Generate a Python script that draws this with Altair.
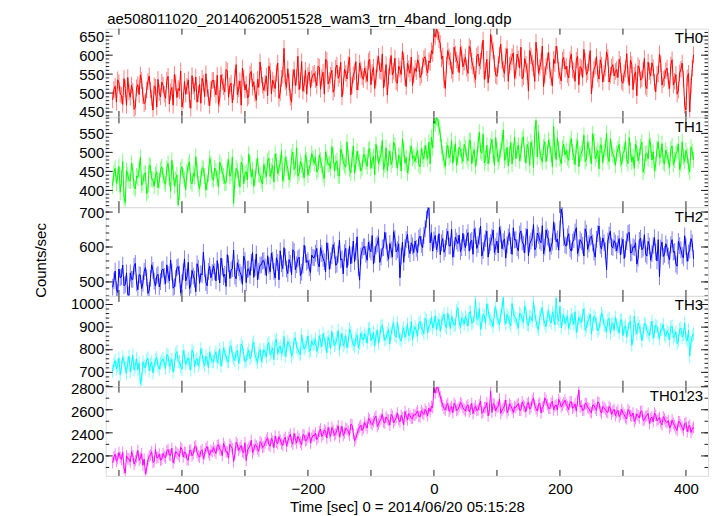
import altair as alt
import pandas as pd

# Two interleaved sets of time bins (sec from 2014/06/20 05:15:28):
# set A at t = -510, -506, ..., 410 ; set B at t = -508, -504, ..., 412
T_START_A = -510
T_START_B = -508
T_STEP = 4

TH0_A = [482, 518, 535, 497, 470, 512, 541, 489, 505, 463, 522, 548, 493, 477, 530, 508, 455, 515, 536, 490,
         521, 486, 544, 503, 468, 527, 512, 558, 481, 497, 535, 460, 519, 542, 498, 473, 526, 551, 488, 510,
         534, 495, 470, 548, 517, 562, 489, 526, 503, 575, 511, 468, 540, 523, 492, 557, 530, 481, 515, 548,
         507, 545, 571, 498, 524, 553, 486, 539, 618, 515, 530, 476, 562, 541, 509, 583, 524, 497, 556, 538,
         552, 519, 568, 541, 497, 586, 533, 560, 512, 574, 548, 490, 563, 537, 595, 521, 556, 508, 579, 543,
         566, 531, 589, 554, 512, 577, 560, 603, 538, 495, 571, 548, 592, 526, 563, 610, 541, 579, 552, 520,
         565, 588, 541, 572, 596, 553, 580, 604, 648, 662, 631, 598, 512, 612, 585, 550, 603, 578, 621, 569,
         595, 552, 618, 571, 536, 603, 584, 640, 559, 527, 655, 612, 547, 575, 629, 563, 598, 531, 582, 606,
         558, 590, 621, 543, 576, 505, 598, 566, 634, 552, 583, 517, 570, 607, 541, 589, 624, 560, 532, 594,
         571, 540, 603, 558, 587, 522, 566, 615, 549, 580, 498, 563, 596, 537, 574, 552, 609, 529, 568, 545,
         562, 589, 531, 553, 604, 520, 575, 547, 493, 566, 538, 591, 512, 557, 580, 528, 549, 603, 521, 540,
         566, 512, 588, 531, 497, 553, 579, 468, 540, 450, 565]
TH0_B = [509, 476, 527, 494, 538, 468, 503, 521, 457, 514, 496, 533, 472, 508, 545, 487, 519, 463, 501, 529,
         497, 534, 471, 515, 549, 488, 506, 463, 531, 518, 482, 546, 504, 476, 523, 539, 491, 512, 467, 533,
         512, 547, 486, 529, 503, 558, 519, 474, 541, 495, 532, 566, 508, 487, 550, 516, 499, 536, 582, 521,
         526, 493, 558, 534, 512, 579, 501, 547, 530, 564, 489, 541, 520, 597, 533, 505, 560, 546, 513, 549,
         536, 571, 510, 555, 589, 524, 547, 502, 566, 539, 581, 518, 552, 575, 495, 548, 583, 529, 561, 536,
         549, 584, 522, 568, 541, 597, 556, 513, 575, 543, 599, 558, 530, 571, 549, 586, 517, 564, 595, 548,
         557, 579, 548, 591, 567, 585, 612, 655, 668, 640, 590, 535, 574, 596, 560, 621, 587, 554, 603, 581,
         566, 623, 584, 549, 598, 571, 612, 536, 589, 561, 630, 578, 544, 601, 585, 552, 617, 574, 596, 539,
         603, 566, 538, 591, 557, 612, 579, 531, 596, 568, 624, 548, 585, 560, 519, 578, 601, 545, 587, 563,
         549, 588, 562, 531, 597, 570, 541, 584, 556, 612, 535, 571, 550, 588, 529, 566, 594, 547, 575, 557,
         541, 575, 526, 563, 549, 587, 509, 556, 572, 534, 561, 518, 582, 545, 567, 503, 551, 578, 536, 559,
         532, 574, 521, 549, 508, 563, 537, 455, 552, 519, 601]

TH1_A = [412, 458, 437, 395, 476, 368, 441, 425, 452, 404, 433, 487, 419, 446, 398, 463, 428, 441, 407, 455,
         439, 416, 471, 398, 448, 429, 362, 455, 437, 402, 466, 423, 445, 489, 418, 432, 457, 401, 443, 470,
         427, 452, 409, 465, 438, 420, 481, 445, 366, 458, 432, 474, 417, 449, 496, 436, 411, 463, 442, 425,
         468, 436, 485, 451, 422, 477, 459, 503, 441, 470, 428, 489, 455, 512, 446, 467, 433, 480, 459, 497,
         471, 448, 493, 465, 431, 486, 470, 515, 452, 478, 439, 498, 466, 527, 457, 483, 445, 503, 474, 460,
         492, 463, 510, 478, 441, 497, 485, 531, 467, 452, 503, 480, 519, 458, 489, 536, 472, 446, 498, 484,
         476, 505, 462, 491, 518, 483, 470, 512, 575, 588, 548, 497, 462, 519, 494, 471, 523, 489, 508, 476,
         512, 478, 530, 494, 463, 521, 503, 548, 486, 470, 517, 496, 539, 475, 505, 559, 489, 464, 526, 501,
         483, 519, 496, 541, 472, 508, 527, 460, 584, 553, 487, 514, 476, 532, 495, 568, 481, 509, 470, 522,
         505, 479, 536, 490, 517, 462, 498, 545, 483, 511, 471, 529, 494, 457, 518, 502, 550, 476, 509, 488,
         497, 521, 468, 503, 482, 539, 475, 458, 512, 490, 527, 463, 498, 534, 480, 452, 509, 486, 523, 470,
         494, 461, 517, 480, 503, 455, 528, 476, 491, 449, 502]
TH1_B = [447, 419, 463, 431, 382, 452, 426, 471, 409, 438, 456, 414, 444, 392, 467, 430, 411, 449, 425, 462,
         423, 458, 434, 479, 412, 441, 396, 462, 429, 448, 475, 417, 436, 453, 405, 460, 438, 420, 484, 431,
         459, 431, 474, 446, 419, 462, 437, 488, 426, 451, 409, 467, 443, 428, 471, 455, 432, 486, 440, 417,
         451, 478, 437, 465, 496, 444, 472, 425, 487, 458, 443, 501, 462, 437, 476, 452, 494, 440, 468, 485,
         487, 455, 479, 442, 501, 468, 457, 493, 472, 438, 509, 475, 461, 488, 446, 517, 469, 483, 451, 494,
         475, 506, 458, 489, 521, 470, 496, 455, 512, 484, 468, 527, 479, 492, 451, 508, 486, 463, 517, 490,
         493, 468, 510, 482, 499, 527, 540, 582, 591, 566, 515, 478, 507, 486, 531, 499, 466, 514, 490, 521,
         489, 532, 470, 507, 485, 553, 498, 472, 519, 491, 534, 466, 508, 487, 525, 479, 513, 496, 470, 540,
         507, 478, 534, 495, 521, 466, 512, 549, 488, 503, 475, 528, 499, 517, 462, 506, 538, 484, 511, 493,
         486, 522, 501, 468, 531, 494, 509, 476, 527, 490, 549, 483, 505, 520, 473, 511, 488, 536, 495, 466,
         509, 482, 497, 530, 471, 505, 489, 522, 478, 515, 448, 496, 483, 519, 502, 469, 528, 491, 474, 506,
         478, 509, 468, 497, 522, 470, 488, 505, 463, 514, 481]

TH2_A = [485, 531, 470, 512, 548, 493, 464, 526, 507, 553, 478, 519, 496, 541, 467, 510, 533, 488, 522, 501,
         537, 495, 521, 563, 482, 510, 544, 468, 529, 503, 556, 491, 517, 472, 539, 524, 585, 498, 530, 512,
         546, 503, 529, 568, 515, 487, 552, 534, 591, 509, 541, 520, 574, 498, 537, 556, 513, 580, 531, 549,
         561, 518, 547, 583, 530, 569, 506, 552, 598, 537, 564, 521, 587, 549, 571, 528, 605, 556, 540, 577,
         569, 596, 543, 581, 558, 612, 536, 575, 590, 551, 620, 566, 584, 541, 603, 577, 558, 629, 505, 591,
         601, 562, 594, 633, 578, 609, 556, 597, 642, 583, 610, 571, 625, 592, 512, 614, 598, 636, 581, 603,
         617, 584, 631, 598, 652, 705, 612, 588, 633, 609, 578, 624, 596, 645, 603, 571, 628, 610, 587, 639,
         598, 641, 615, 579, 632, 607, 660, 590, 624, 571, 613, 648, 601, 583, 637, 615, 568, 629, 604, 655,
         621, 589, 646, 608, 630, 575, 617, 664, 598, 633, 612, 581, 649, 623, 602, 672, 615, 591, 708, 627,
         603, 638, 588, 621, 655, 597, 615, 574, 640, 609, 631, 585, 622, 660, 594, 612, 535, 634, 601, 618,
         589, 624, 603, 567, 615, 642, 584, 598, 551, 619, 592, 635, 574, 603, 581, 627, 560, 515, 614, 579,
         598, 563, 621, 587, 545, 604, 576, 632, 559, 591, 612]
TH2_B = [503, 478, 537, 515, 489, 526, 462, 508, 545, 497, 521, 481, 530, 512, 476, 549, 502, 517, 486, 534,
         516, 549, 503, 528, 487, 541, 522, 498, 566, 514, 481, 533, 508, 552, 496, 520, 537, 489, 545, 527,
         529, 561, 497, 543, 522, 578, 510, 538, 517, 555, 528, 493, 561, 536, 519, 584, 541, 506, 548, 560,
         543, 575, 529, 562, 511, 556, 589, 538, 571, 524, 553, 592, 535, 566, 518, 548, 579, 561, 527, 570,
         582, 553, 598, 567, 529, 588, 561, 607, 548, 579, 563, 523, 596, 571, 552, 617, 586, 541, 574, 600,
         579, 614, 586, 551, 603, 627, 571, 598, 618, 565, 592, 644, 586, 609, 574, 556, 621, 593, 612, 584,
         596, 625, 607, 633, 679, 712, 641, 620, 592, 638, 612, 585, 629, 603, 651, 594, 617, 634, 598, 612,
         627, 588, 619, 652, 596, 631, 574, 612, 645, 603, 628, 584, 617, 657, 595, 623, 606, 641, 579, 620,
         598, 637, 615, 583, 651, 609, 626, 592, 640, 618, 661, 600, 629, 587, 614, 644, 623, 652, 690, 606,
         629, 596, 614, 643, 581, 621, 605, 652, 593, 627, 612, 571, 638, 604, 626, 589, 617, 645, 598, 611,
         608, 577, 622, 594, 639, 583, 601, 612, 568, 625, 597, 580, 616, 562, 604, 586, 621, 597, 573, 609,
         574, 607, 585, 551, 616, 592, 569, 601, 583, 624, 566]

TH3_A = [705, 752, 731, 690, 768, 721, 744, 702, 776, 729, 712, 651, 747, 719, 763, 734, 698, 755, 727, 741,
         760, 718, 774, 739, 701, 782, 748, 725, 796, 736, 763, 711, 788, 752, 729, 805, 744, 771, 720, 767,
         748, 791, 765, 727, 809, 772, 746, 818, 763, 789, 740, 826, 778, 752, 799, 770, 834, 761, 787, 749,
         801, 768, 832, 790, 757, 845, 806, 781, 858, 797, 822, 772, 849, 811, 786, 866, 803, 829, 791, 840,
         826, 793, 862, 814, 848, 787, 836, 881, 819, 851, 798, 873, 832, 809, 892, 840, 815, 866, 828, 854,
         871, 829, 895, 852, 816, 886, 859, 908, 842, 874, 826, 899, 863, 921, 848, 880, 855, 914, 869, 846,
         902, 861, 925, 888, 940, 874, 911, 896, 951, 918, 882, 937, 904, 962, 893, 926, 910, 985, 899, 934,
         947, 905, 968, 922, 1021, 936, 890, 958, 917, 975, 932, 901, 989, 928, 951, 1030, 914, 943, 906, 962,
         938, 895, 954, 921, 976, 908, 944, 1012, 927, 889, 961, 935, 903, 972, 918, 949, 1028, 926, 897, 955,
         931, 894, 957, 912, 877, 944, 920, 981, 901, 935, 869, 948, 916, 893, 962, 907, 878, 939, 912, 886,
         913, 874, 932, 898, 856, 921, 820, 949, 870, 903, 841, 918, 885, 862, 927, 879, 903, 848, 891, 866,
         884, 843, 905, 862, 827, 891, 856, 918, 839, 772, 860]
TH3_B = [738, 716, 763, 725, 749, 697, 771, 735, 711, 760, 742, 669, 728, 754, 707, 746, 732, 766, 714, 751,
         742, 779, 726, 758, 733, 792, 747, 714, 772, 751, 738, 799, 725, 761, 744, 780, 731, 756, 789, 747,
         774, 742, 803, 758, 786, 749, 811, 775, 752, 797, 768, 815, 746, 783, 761, 820, 778, 744, 801, 769,
         789, 823, 776, 808, 841, 783, 817, 799, 771, 836, 812, 787, 852, 803, 779, 826, 814, 861, 796, 822,
         847, 809, 838, 871, 823, 857, 806, 845, 829, 886, 841, 818, 862, 837, 879, 822, 851, 808, 874, 843,
         857, 892, 841, 876, 864, 829, 903, 868, 851, 889, 872, 917, 856, 880, 838, 897, 875, 862, 926, 881,
         884, 917, 896, 871, 929, 906, 943, 915, 889, 934, 921, 958, 897, 929, 946, 908, 972, 921, 941, 913,
         931, 964, 917, 948, 935, 982, 919, 951, 1003, 938, 922, 967, 944, 911, 983, 937, 956, 921, 1005, 946,
         918, 962, 937, 991, 912, 947, 928, 963, 901, 943, 986, 917, 951, 930, 967, 909, 941, 992, 933, 915,
         948, 917, 936, 968, 903, 929, 952, 886, 924, 957, 911, 940, 883, 927, 948, 904, 931, 872, 918, 943,
         897, 931, 862, 907, 889, 925, 852, 896, 918, 881, 869, 911, 872, 896, 851, 908, 874, 889, 912, 859,
         873, 901, 852, 879, 842, 896, 868, 851, 887, 833, 871]

TH0123_A = [2142, 2215, 2176, 2188, 2231, 2052, 2176, 2149, 2203, 2158, 2247, 2181, 2119, 2046, 2165, 2209, 2143, 2258, 2187, 2162,
            2221, 2183, 2256, 2205, 2139, 2238, 2212, 2274, 2190, 2229, 2163, 2251, 2218, 2287, 2201, 2240, 2176, 2263, 2229, 2248,
            2272, 2221, 2295, 2248, 2309, 2234, 2180, 2283, 2150, 2318, 2247, 2290, 2226, 2160, 2269, 2334, 2255, 2289, 2240, 2310,
            2281, 2336, 2298, 2352, 2272, 2319, 2367, 2306, 2341, 2284, 2360, 2323, 2395, 2311, 2348, 2296, 2379, 2337, 2402, 2354,
            2373, 2341, 2412, 2368, 2425, 2354, 2401, 2447, 2378, 2422, 2363, 2456, 2399, 2431, 2380, 2468, 2330, 2392, 2450, 2421,
            2489, 2441, 2513, 2470, 2528, 2455, 2502, 2561, 2484, 2519, 2467, 2546, 2508, 2572, 2493, 2530, 2585, 2512, 2549, 2526,
            2552, 2589, 2537, 2571, 2603, 2548, 2584, 2619, 2745, 2795, 2712, 2640, 2598, 2655, 2611, 2574, 2637, 2602, 2661, 2618,
            2589, 2642, 2603, 2566, 2631, 2598, 2674, 2580, 2620, 2547, 2760, 2653, 2590, 2627, 2568, 2612, 2685, 2598, 2634, 2576,
            2618, 2653, 2596, 2637, 2582, 2664, 2621, 2700, 2609, 2645, 2573, 2630, 2681, 2612, 2656, 2598, 2642, 2690, 2625, 2662,
            2644, 2601, 2668, 2622, 2587, 2770, 2635, 2598, 2652, 2611, 2574, 2639, 2595, 2660, 2570, 2618, 2583, 2629, 2561, 2604,
            2577, 2539, 2602, 2556, 2520, 2584, 2545, 2497, 2563, 2528, 2590, 2515, 2549, 2482, 2537, 2571, 2504, 2533, 2469, 2521,
            2488, 2441, 2512, 2463, 2420, 2495, 2447, 2478, 2409, 2466, 2432]
TH0123_B = [2191, 2153, 2229, 2168, 2094, 2201, 2174, 2236, 2128, 2188, 2162, 2219, 2173, 2088, 2196, 2237, 2152, 2184, 2216, 2171,
            2195, 2243, 2208, 2267, 2179, 2224, 2195, 2258, 2232, 2171, 2246, 2201, 2276, 2228, 2189, 2253, 2217, 2282, 2206, 2236,
            2244, 2289, 2257, 2203, 2277, 2236, 2301, 2262, 2215, 2297, 2270, 2239, 2315, 2251, 2286, 2226, 2299, 2263, 2323, 2274,
            2312, 2358, 2284, 2327, 2373, 2305, 2338, 2291, 2362, 2327, 2389, 2301, 2346, 2370, 2319, 2385, 2332, 2364, 2312, 2380,
            2398, 2362, 2433, 2387, 2414, 2446, 2370, 2419, 2392, 2461, 2408, 2377, 2440, 2413, 2474, 2395, 2352, 2429, 2466, 2441,
            2463, 2527, 2482, 2498, 2545, 2476, 2521, 2493, 2538, 2509, 2560, 2487, 2531, 2515, 2552, 2470, 2544, 2567, 2525, 2558,
            2571, 2543, 2592, 2559, 2581, 2614, 2628, 2781, 2790, 2756, 2672, 2611, 2638, 2586, 2629, 2657, 2593, 2624, 2647, 2602,
            2628, 2583, 2655, 2611, 2594, 2642, 2569, 2617, 2661, 2600, 2577, 2643, 2621, 2694, 2597, 2633, 2574, 2651, 2609, 2627,
            2641, 2597, 2669, 2626, 2651, 2605, 2681, 2637, 2588, 2659, 2622, 2703, 2643, 2611, 2673, 2632, 2598, 2664, 2640, 2683,
            2627, 2669, 2613, 2651, 2680, 2624, 2596, 2655, 2619, 2583, 2641, 2612, 2667, 2590, 2628, 2603, 2576, 2612, 2588, 2550,
            2596, 2558, 2571, 2533, 2602, 2549, 2572, 2521, 2548, 2583, 2506, 2541, 2569, 2525, 2496, 2553, 2518, 2487, 2540, 2497,
            2506, 2459, 2482, 2437, 2497, 2468, 2421, 2489, 2452, 2403, 2449]

NAMES = ["TH0", "TH1", "TH2", "TH3", "TH0123"]
SERIES_A = [TH0_A, TH1_A, TH2_A, TH3_A, TH0123_A]
SERIES_B = [TH0_B, TH1_B, TH2_B, TH3_B, TH0123_B]
ERRS = [22, 21, 24, 29, 50]
COLORS = ["#ff0000", "#00ff00", "#0000ff", "#00ffff", "#ff00ff"]
YDOMAINS = [[437, 670], [356, 592], [460, 714], [637, 1038], [2027, 2800]]
YMAJOR = [[450, 500, 550, 600, 650], [400, 450, 500, 550], [500, 600, 700],
          [700, 800, 900, 1000], [2200, 2400, 2600, 2800]]
YMINOR = [list(range(440, 670, 10)), list(range(360, 591, 10)), list(range(460, 714, 20)),
          list(range(640, 1038, 20)), list(range(2100, 2800, 100))]
YLABEL_OFFSET = [0, 0, 0, -1, 1.5]
XDOMAIN = [-521, 435]
XTICKS = list(range(-500, 401, 100))
XLABELS = [-400, -200, 0, 200, 400]
PANEL_H = [88.5, 90, 89, 91, 89.5]
W = 604
FONT = "Liberation Sans"
FRAME = "#222222"


def panel(k):
    a, b = SERIES_A[k], SERIES_B[k]
    df = pd.concat([
        pd.DataFrame({"t": [T_START_A + T_STEP * i for i in range(len(a))], "v": a}),
        pd.DataFrame({"t": [T_START_B + T_STEP * i for i in range(len(b))], "v": b}),
    ]).sort_values("t").reset_index(drop=True)
    df["lo"] = df["v"] - ERRS[k]
    df["hi"] = df["v"] + ERRS[k]
    H = PANEL_H[k]
    c = COLORS[k]
    xs = alt.Scale(domain=XDOMAIN, nice=False, zero=False)
    ys = alt.Scale(domain=YDOMAINS[k], nice=False, zero=False)

    if k == 4:
        xaxis = alt.Axis(values=XLABELS, ticks=False, tickSize=0, domain=False, grid=False,
                         labelPadding=6, labelFontSize=15, labelFlush=False, labelColor="black",
                         title="Time [sec] 0 = 2014/06/20 05:15:28", titleFontSize=15,
                         titleFontWeight="normal", titlePadding=3, titleColor="black")
    else:
        xaxis = None
    if k == 2:
        yaxis = alt.Axis(values=YMAJOR[k], format="d", ticks=False, tickSize=0, domain=False,
                         grid=False, labelPadding=2, labelFontSize=15, labelColor="black",
                         labelOffset=YLABEL_OFFSET[k],
                         title="Counts/sec", titleFontSize=15, titleFontWeight="normal",
                         titleX=-65, titleY=53, titleAlign="center", titleBaseline="middle",
                         titleAngle=270, titleColor="black")
    else:
        yaxis = alt.Axis(values=YMAJOR[k], format="d", ticks=False, tickSize=0, domain=False,
                         grid=False, labelPadding=2, labelFontSize=15, labelColor="black",
                         labelOffset=YLABEL_OFFSET[k], title=None)

    def X(field):
        return alt.X(field, type="quantitative", scale=xs, axis=xaxis)

    def Y(field):
        return alt.Y(field, type="quantitative", scale=ys, axis=yaxis)

    err = alt.Chart(df).mark_rule(color=c, opacity=0.5, strokeWidth=1, clip=True).encode(
        x=X("t"), y=Y("lo"), y2="hi:Q",
    )
    line = alt.Chart(df).mark_line(color=c, strokeWidth=1, clip=True).encode(
        x=X("t"), y=Y("v"),
    )
    xt = pd.DataFrame({"t": XTICKS})
    top_t = alt.Chart(xt).mark_rule(color=FRAME, strokeWidth=1).encode(
        x=X("t"), y=alt.value(0), y2=alt.value(6))
    bot_t = alt.Chart(xt).mark_rule(color=FRAME, strokeWidth=1).encode(
        x=X("t"), y=alt.value(H - 6), y2=alt.value(H))
    ymaj = pd.DataFrame({"v": YMAJOR[k]})
    ymin = pd.DataFrame({"v": YMINOR[k]})
    lmaj = alt.Chart(ymaj).mark_rule(color=FRAME, strokeWidth=1).encode(
        y=Y("v"), x=alt.value(0), x2=alt.value(7))
    rmaj = alt.Chart(ymaj).mark_rule(color=FRAME, strokeWidth=1).encode(
        y=Y("v"), x=alt.value(W - 7), x2=alt.value(W))
    lmin = alt.Chart(ymin).mark_rule(color=FRAME, strokeWidth=1).encode(
        y=Y("v"), x=alt.value(0), x2=alt.value(3.5))
    rmin = alt.Chart(ymin).mark_rule(color=FRAME, strokeWidth=1).encode(
        y=Y("v"), x=alt.value(W - 3.5), x2=alt.value(W))
    lab = alt.Chart(pd.DataFrame({"n": [NAMES[k]]})).mark_text(
        align="right", baseline="alphabetic", fontSize=15, font=FONT, color="black"
    ).encode(x=alt.value(W - 5), y=alt.value(14.5), text="n:N")

    return alt.layer(err, line, top_t, bot_t, lmaj, rmaj, lmin, rmin, lab).properties(
        width=W, height=H)


chart = alt.vconcat(
    *[panel(k) for k in range(5)],
    spacing=0,
    bounds="flush",
    title=alt.Title("ae508011020_20140620051528_wam3_trn_4band_long.qdp",
                    anchor="start", fontSize=15, fontWeight="normal", font=FONT,
                    color="black", offset=1, dx=74),
).resolve_scale(x="independent", y="independent").properties(
    padding={"left": 25, "top": 3, "right": 0, "bottom": 0}
).configure_view(
    stroke=FRAME, strokeWidth=1.5
).configure_axis(
    labelFont=FONT, titleFont=FONT
).configure(background="white")

chart.save("out.html", embed_options={"renderer": "svg", "actions": False})
